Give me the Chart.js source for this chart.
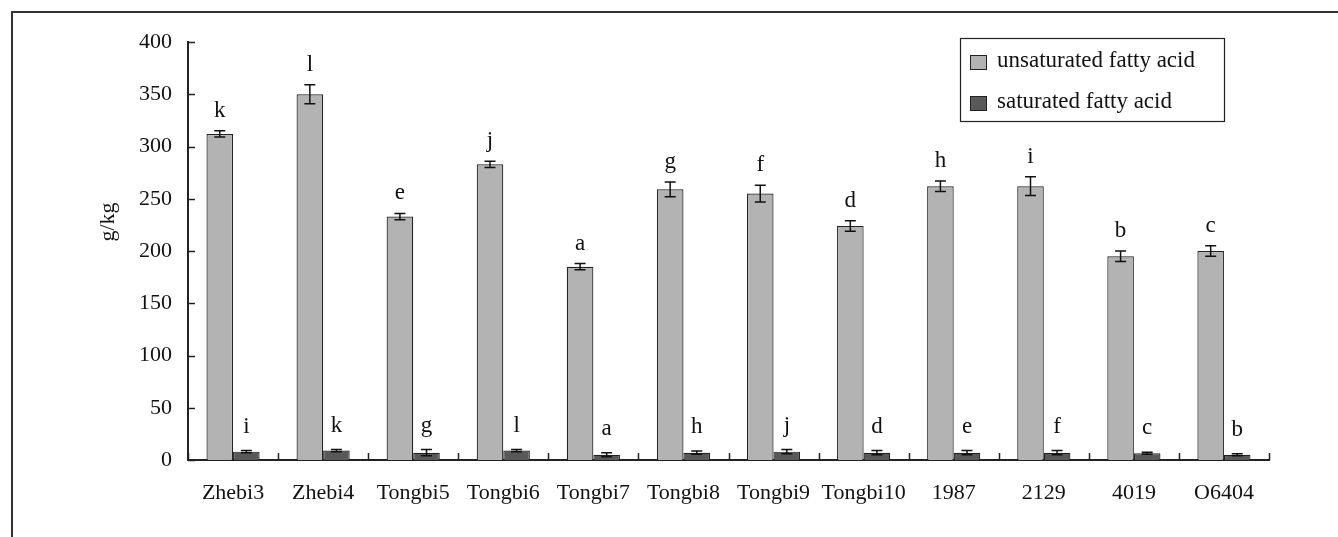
<!DOCTYPE html>
<html>
<head>
<meta charset="utf-8">
<script src="https://cdn.jsdelivr.net/npm/chart.js@4"></script>
<style>
  html, body { margin: 0; padding: 0; background: #fff; }
  #wrap { width: 1338px; height: 537px; }
</style>
</head>
<body>
<div id="wrap"><canvas id="bars"></canvas></div>
<script>
const categories = ["Zhebi3", "Zhebi4", "Tongbi5", "Tongbi6", "Tongbi7", "Tongbi8", "Tongbi9", "Tongbi10", "1987", "2129", "4019", "O6404"];
const unsaturated = [312, 350, 233, 283, 185, 259, 255, 224, 262, 262, 195, 200];
const unsaturatedErr = [3, 9, 3, 3, 3, 7, 8, 5, 5, 9, 5, 5];
const unsaturatedLetters = ["k", "l", "e", "j", "a", "g", "f", "d", "h", "i", "b", "c"];
const saturated = [8, 9, 7, 9, 5, 7, 8, 7, 7, 7, 6.5, 5];
const saturatedErr = [1, 1, 3, 1, 2, 1.5, 2, 2, 2, 2, 1, 1];
const saturatedLetters = ["i", "k", "g", "l", "a", "h", "j", "d", "e", "f", "c", "b"];
const yTicks = [0, 50, 100, 150, 200, 250, 300, 350, 400];

const FONT = "'Liberation Serif', 'DejaVu Serif', serif";
const errs = [unsaturatedErr, saturatedErr];
const letters = [unsaturatedLetters, saturatedLetters];

const extras = {
  id: "extras",
  beforeDraw(chart) {
    const c = chart.ctx;
    c.save();
    c.strokeStyle = "#333";
    c.lineWidth = 2;
    c.beginPath();
    c.moveTo(12, 537);
    c.lineTo(12, 12);
    c.lineTo(1338, 12);
    c.stroke();
    c.restore();
  },
  afterDatasetsDraw(chart) {
    const c = chart.ctx;
    const y = chart.scales.y;
    const area = chart.chartArea;
    c.save();
    // tick marks pointing inward
    c.strokeStyle = "#222";
    c.lineWidth = 1.5;
    c.beginPath();
    yTicks.forEach(v => {
      const py = Math.round(y.getPixelForValue(v)) + 0.5;
      c.moveTo(area.left, py);
      c.lineTo(area.left + 7, py);
    });
    const step = (area.right - area.left) / categories.length;
    for (let k = 0; k <= categories.length; k++) {
      const px = Math.round(area.left + step * k) + 0.5;
      c.moveTo(px, area.bottom);
      c.lineTo(px, area.bottom - 7);
    }
    c.stroke();

    // error bars + letters
    c.font = "23px " + FONT;
    c.fillStyle = "#111";
    c.textAlign = "center";
    c.textBaseline = "alphabetic";
    chart.data.datasets.forEach((ds, di) => {
      const meta = chart.getDatasetMeta(di);
      meta.data.forEach((bar, i) => {
        const v = ds.data[i];
        const e = errs[di][i];
        const top = y.getPixelForValue(v + e);
        const bot = y.getPixelForValue(v - e);
        c.strokeStyle = "#111";
        c.lineWidth = 1.5;
        c.beginPath();
        c.moveTo(bar.x, top);
        c.lineTo(bar.x, bot);
        c.moveTo(bar.x - 5.5, top);
        c.lineTo(bar.x + 5.5, top);
        c.moveTo(bar.x - 5.5, bot);
        c.lineTo(bar.x + 5.5, bot);
        c.stroke();
        c.fillText(letters[di][i], bar.x, top - (di === 0 ? 14 : 18));
      });
    });

    // y axis title
    c.save();
    c.translate(108, 222);
    c.rotate(-Math.PI / 2);
    c.font = "22px " + FONT;
    c.textBaseline = "middle";
    c.fillText("g/kg", 0, 0);
    c.restore();

    // legend box
    const lx = 960, ly = 38, lw = 264, lh = 83;
    c.strokeStyle = "#222";
    c.lineWidth = 1.2;
    c.strokeRect(lx + 0.5, ly + 0.5, lw, lh);
    c.textAlign = "left";
    c.textBaseline = "middle";
    c.font = "23px " + FONT;
    chart.data.datasets.forEach((ds, di) => {
      const sy = ly + 17 + di * 41;
      c.fillStyle = ds.backgroundColor;
      c.fillRect(lx + 10, sy, 16, 14);
      c.strokeStyle = "#222";
      c.lineWidth = 1;
      c.strokeRect(lx + 10.5, sy + 0.5, 16, 14);
      c.fillStyle = "#111";
      c.fillText(ds.label, lx + 37, sy + 6);
    });
    c.restore();
  }
};

new Chart(document.getElementById("bars").getContext("2d"), {
  type: "bar",
  data: {
    labels: categories,
    datasets: [
      {
        label: "unsaturated fatty acid",
        data: unsaturated,
        backgroundColor: "#b3b3b3",
        borderColor: "#222",
        borderWidth: 1.2,
      },
      {
        label: "saturated fatty acid",
        data: saturated,
        backgroundColor: "#595959",
        borderColor: "#222",
        borderWidth: 1.2,
      },
    ],
  },
  options: {
    responsive: true,
    maintainAspectRatio: false,
    animation: false,
    layout: { padding: { left: 0, top: 42, right: 69, bottom: 0 } },
    datasets: { bar: { categoryPercentage: 0.59, barPercentage: 1 } },
    plugins: { legend: { display: false }, tooltip: { enabled: false } },
    scales: {
      x: {
        grid: { display: false, drawTicks: false },
        border: { display: true, color: "#222", width: 2 },
        ticks: { color: "#111", font: { family: FONT, size: 22 }, padding: 20, maxRotation: 0, autoSkip: false },
        afterFit: s => { s.height = 77; },
      },
      y: {
        min: 0,
        max: 400,
        grid: { display: false, drawTicks: false },
        border: { display: true, color: "#222", width: 2 },
        ticks: { stepSize: 50, color: "#111", font: { family: FONT, size: 22 }, padding: 16 },
        afterFit: s => { s.width = 188; },
      },
    },
  },
  plugins: [extras],
});
</script>
</body>
</html>
